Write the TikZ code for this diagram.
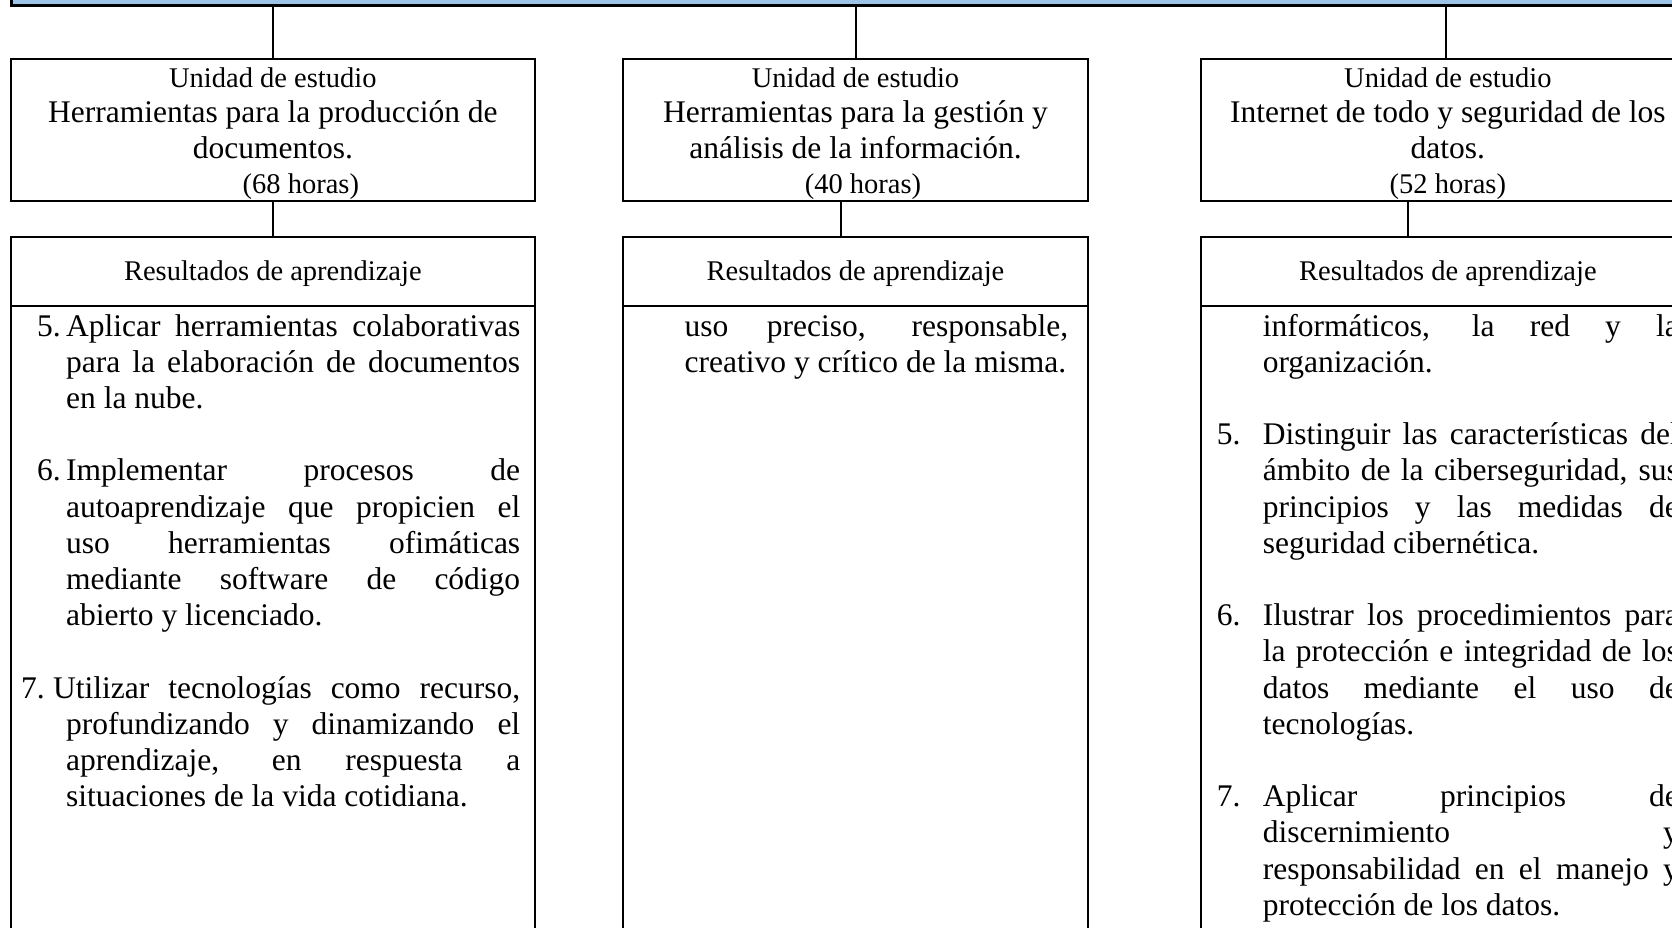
\documentclass[tikz,border=0pt]{standalone}
\usepackage{fontspec}
\setmainfont{Liberation Serif}
\definecolor{barblue}{HTML}{9DC3E6}
\newcommand{\bodyfont}{\fontsize{31.5}{36.2}\selectfont}
\newcommand{\headfont}{\fontsize{28.5}{35.5}\selectfont}
\newcommand{\titlefont}{\fontsize{31.5}{35.5}\selectfont}
\newcommand{\toprule}{\rule{0pt}{28pt}}
\begin{document}
\begin{tikzpicture}[x=1pt,y=-1pt,
  frame/.style={draw=black, line width=2pt, inner sep=0pt},
  link/.style={draw=black, line width=2pt},
  unitbox/.style={frame, align=center, font=\titlefont},
  resbox/.style={frame},
  reshead/.style={frame, align=center, font=\headfont},
  textcol/.style={anchor=base west, inner sep=0pt, align=justify, font=\bodyfont}]
\useasboundingbox (0,0) rectangle (1672,928);
\clip (0,0) rectangle (1672,928);

% top banner
\node[draw=black, line width=2.5pt, fill=barblue, inner sep=0pt,
      minimum width=1700pt, minimum height=40pt, anchor=south west] (bar) at (10,7) {};

% study units
\node[unitbox, minimum width=524.3pt, minimum height=142pt] (un1) at (272.85,129.55)
  {{\headfont\toprule Unidad de estudio}\\ Herramientas para la producción de\\ documentos.\\ {\headfont\hspace*{56pt}(68 horas)}};
\node[unitbox, minimum width=465pt, minimum height=142pt] (un2) at (855.5,129.55)
  {{\headfont\toprule Unidad de estudio}\\ Herramientas para la gestión y\\ análisis de la información.\\ {\headfont\hspace*{15pt}(40 horas)}};
\node[unitbox, minimum width=494.3pt, minimum height=142pt] (un3) at (1447.85,129.55)
  {{\headfont\toprule Unidad de estudio}\\ Internet de todo y seguridad de los\\ datos.\\ {\headfont (52 horas)}};

% learning outcome columns
\node[resbox, minimum width=524.3pt, minimum height=740pt, anchor=north] (res1) at (272.85,235.7) {};
\node[resbox, minimum width=465pt, minimum height=740pt, anchor=north] (res2) at (855.5,235.7) {};
\node[resbox, minimum width=494.3pt, minimum height=740pt, anchor=north] (res3) at (1447.85,235.7) {};
\node[reshead, minimum width=524.3pt, minimum height=69.3pt, anchor=north] (hd1) at (res1.north) {\rule{0pt}{23.5pt}Resultados de aprendizaje};
\node[reshead, minimum width=465pt, minimum height=69.3pt, anchor=north] (hd2) at (res2.north) {\rule{0pt}{23.5pt}Resultados de aprendizaje};
\node[reshead, minimum width=494.3pt, minimum height=69.3pt, anchor=north] (hd3) at (res3.north) {\rule{0pt}{23.5pt}Resultados de aprendizaje};

% connectors
\coordinate (t3) at ([xshift=-2pt]un3.north);
\coordinate (b2) at ([xshift=-14.5pt]un2.south);
\coordinate (b3) at ([xshift=-40pt]un3.south);
\draw[link] (un1.north |- bar.south) -- (un1.north);
\draw[link] (un2.north |- bar.south) -- (un2.north);
\draw[link] (t3 |- bar.south) -- (t3);
\draw[link] (un1.south) -- (un1.south |- hd1.north);
\draw[link] (b2) -- (b2 |- hd2.north);
\draw[link] (b3) -- (b3 |- hd3.north);

% outcome texts
\node[textcol, text width=483pt] (txt1) at (37,336) {%
  \tolerance=10000 \hbadness=10000 \hyphenpenalty=10000 \parindent=0pt
  \hangindent=29pt\hangafter=1\noindent\makebox[29pt][l]{5.}Aplicar herramientas colaborativas\linebreak
  para la elaboración de documentos\linebreak en la nube.\par
  \vspace{36.2pt}
  \hangindent=29pt\hangafter=1\noindent\makebox[29pt][l]{6.}Implementar procesos de\linebreak
  autoaprendizaje que propicien el\linebreak uso herramientas ofimáticas\linebreak
  mediante software de código\linebreak abierto y licenciado.\par
  \vspace{36.2pt}
  \hangindent=29pt\hangafter=1\noindent\hspace*{-16pt}\makebox[32pt][l]{7.}Utilizar tecnologías como recurso,\linebreak
  profundizando y dinamizando el\linebreak aprendizaje, en respuesta a\linebreak
  situaciones de la vida cotidiana.\par};

\node[textcol, text width=383.5pt] (txt2) at (684.5,336) {%
  \tolerance=10000 \hbadness=10000 \parindent=0pt
  uso preciso, responsable,\linebreak creativo y crítico de la misma.\par};

\node[textcol, text width=462pt] (txt3) at (1216.6,336) {%
  \tolerance=10000 \hbadness=10000 \hyphenpenalty=10000 \parindent=0pt
  \hangindent=46pt\hangafter=0\noindent informáticos, la red y la\linebreak organización.\par
  \vspace{36.2pt}
  \hangindent=46pt\hangafter=1\noindent\makebox[46pt][l]{5.}Distinguir las características del\linebreak
  ámbito de la ciberseguridad, sus\linebreak principios y las medidas de\linebreak
  seguridad cibernética.\par
  \vspace{36.2pt}
  \hangindent=46pt\hangafter=1\noindent\makebox[46pt][l]{6.}Ilustrar los procedimientos para\linebreak
  la protección e integridad de los\linebreak datos mediante el uso de\linebreak
  tecnologías.\par
  \vspace{36.2pt}
  \hangindent=46pt\hangafter=1\noindent\makebox[46pt][l]{7.}Aplicar principios de\linebreak
  discernimiento y\linebreak responsabilidad en el manejo y\linebreak
  protección de los datos.\par};
\end{tikzpicture}
\end{document}
